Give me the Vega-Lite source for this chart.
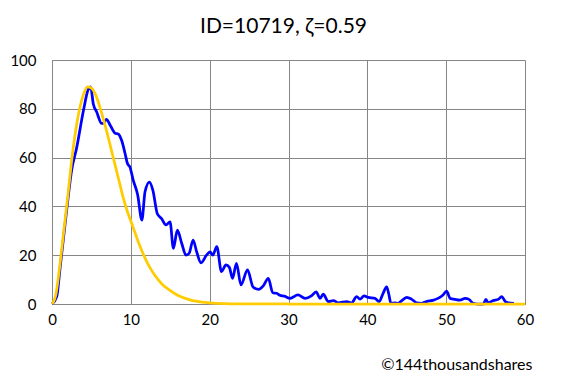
{
  "$schema": "https://vega.github.io/schema/vega-lite/v6.json",
  "autosize": "none",
  "width": 473,
  "height": 244,
  "padding": {"left": 52, "top": 60, "right": 43, "bottom": 75},
  "background": "white",
  "config": {
    "view": {"stroke": null},
    "font": "Lato",
    "axis": {"gridColor": "#868686", "gridWidth": 1, "domainColor": "#868686", "domainWidth": 1, "ticks": false, "labelColor": "#000000", "labelFont": "Lato", "labelFontSize": 15, "gridOpacity": 1}
  },
  "title": {
    "text": "ID=10719, ζ=0.59",
    "fontSize": 21,
    "fontWeight": "normal",
    "font": "Lato",
    "color": "#000000",
    "anchor": "middle",
    "offset": 16,
    "dx": -5
  },
  "datasets": {
    "observed": [
      {"x": 0, "y": 0}, {"x": 0.6, "y": 3}, {"x": 1.0, "y": 14}, {"x": 1.86, "y": 38.5}, {"x": 2.5, "y": 55}, {"x": 3.13, "y": 64}, {"x": 3.97, "y": 79}, {"x": 4.6, "y": 88}, {"x": 4.9, "y": 89}, {"x": 5.24, "y": 82}, {"x": 5.66, "y": 78.8}, {"x": 6.3, "y": 74}, {"x": 6.5, "y": 74}, {"x": 6.9, "y": 75.7}, {"x": 7.36, "y": 73.4}, {"x": 8.0, "y": 70}, {"x": 8.4, "y": 69.7}, {"x": 8.84, "y": 67}, {"x": 9.26, "y": 61.8}, {"x": 9.56, "y": 57.7}, {"x": 9.9, "y": 56}, {"x": 10.3, "y": 50.8}, {"x": 10.87, "y": 44.7}, {"x": 11.4, "y": 34.4}, {"x": 11.8, "y": 46}, {"x": 12.35, "y": 50}, {"x": 12.8, "y": 46.6}, {"x": 13.36, "y": 37}, {"x": 13.9, "y": 35}, {"x": 14.46, "y": 32.4}, {"x": 14.97, "y": 33.7}, {"x": 15.4, "y": 22.8}, {"x": 15.9, "y": 30.3}, {"x": 16.45, "y": 24.9}, {"x": 17.0, "y": 20}, {"x": 17.4, "y": 20.8}, {"x": 17.9, "y": 26.2}, {"x": 18.35, "y": 21.4}, {"x": 18.9, "y": 16.9}, {"x": 19.6, "y": 20}, {"x": 20.04, "y": 21.4}, {"x": 20.4, "y": 20}, {"x": 20.9, "y": 23.5}, {"x": 21.5, "y": 13.3}, {"x": 22.07, "y": 16}, {"x": 22.5, "y": 15}, {"x": 22.9, "y": 10.5}, {"x": 23.4, "y": 16.7}, {"x": 23.97, "y": 7.8}, {"x": 24.8, "y": 14}, {"x": 25.5, "y": 7}, {"x": 26.2, "y": 6}, {"x": 26.8, "y": 7.4}, {"x": 27.44, "y": 10.5}, {"x": 28.0, "y": 4.6}, {"x": 28.5, "y": 4.4}, {"x": 28.9, "y": 3.6}, {"x": 29.5, "y": 3.2}, {"x": 30.2, "y": 2.3}, {"x": 31.2, "y": 3.7}, {"x": 32.1, "y": 2.3}, {"x": 32.9, "y": 3.3}, {"x": 33.5, "y": 5}, {"x": 34.0, "y": 2.3}, {"x": 34.4, "y": 4}, {"x": 35.05, "y": 1}, {"x": 35.7, "y": 1.4}, {"x": 36.3, "y": 0.5}, {"x": 37.4, "y": 1}, {"x": 38.0, "y": 0.5}, {"x": 38.65, "y": 3}, {"x": 39.07, "y": 2}, {"x": 39.58, "y": 3.3}, {"x": 40.1, "y": 2.7}, {"x": 40.97, "y": 2.3}, {"x": 41.5, "y": 1}, {"x": 42.0, "y": 4.4}, {"x": 42.45, "y": 7}, {"x": 42.7, "y": 4.4}, {"x": 43.0, "y": 0.3}, {"x": 43.5, "y": 0.5}, {"x": 43.9, "y": 0.3}, {"x": 44.57, "y": 1.9}, {"x": 44.99, "y": 2.7}, {"x": 45.6, "y": 2}, {"x": 46.25, "y": 0.5}, {"x": 46.9, "y": 0.3}, {"x": 47.5, "y": 1}, {"x": 48.4, "y": 1.6}, {"x": 49.2, "y": 2.7}, {"x": 49.6, "y": 3.7}, {"x": 50.06, "y": 5.3}, {"x": 50.5, "y": 2.3}, {"x": 51.1, "y": 1.9}, {"x": 51.75, "y": 1.6}, {"x": 52.4, "y": 2.3}, {"x": 52.9, "y": 1.9}, {"x": 53.4, "y": 0.3}, {"x": 54.0, "y": 0}, {"x": 54.7, "y": 0}, {"x": 55.05, "y": 1.9}, {"x": 55.3, "y": 0.5}, {"x": 55.96, "y": 1.4}, {"x": 56.6, "y": 1.9}, {"x": 57.04, "y": 3}, {"x": 57.5, "y": 1}, {"x": 57.9, "y": 0.5}, {"x": 58.6, "y": 0.3}
    ],
    "model": [
      {"x": 0, "y": 0}, {"x": 0.5, "y": 4}, {"x": 1, "y": 16}, {"x": 1.5, "y": 30}, {"x": 2, "y": 44}, {"x": 2.5, "y": 59}, {"x": 3, "y": 71}, {"x": 3.5, "y": 80}, {"x": 4, "y": 86}, {"x": 4.5, "y": 89}, {"x": 5, "y": 88.5}, {"x": 5.5, "y": 86}, {"x": 6, "y": 81.5}, {"x": 6.5, "y": 76}, {"x": 7, "y": 70}, {"x": 7.5, "y": 63.5}, {"x": 8, "y": 57}, {"x": 8.5, "y": 50.5}, {"x": 9, "y": 44}, {"x": 9.5, "y": 38.5}, {"x": 10, "y": 34}, {"x": 10.5, "y": 29.5}, {"x": 11, "y": 25}, {"x": 11.5, "y": 21}, {"x": 12, "y": 17.5}, {"x": 12.5, "y": 14.5}, {"x": 13, "y": 12}, {"x": 14, "y": 8}, {"x": 15, "y": 5.5}, {"x": 16, "y": 3.5}, {"x": 17, "y": 2.2}, {"x": 18, "y": 1.3}, {"x": 19, "y": 0.8}, {"x": 20, "y": 0.5}, {"x": 22, "y": 0.2}, {"x": 25, "y": 0.05}, {"x": 30, "y": 0}, {"x": 40, "y": 0}, {"x": 50, "y": 0}, {"x": 60, "y": 0}
    ]
  },
  "encoding": {
    "x": {"field": "x", "type": "quantitative", "scale": {"domain": [0, 60], "nice": false},
      "axis": {"values": [0, 10, 20, 30, 40, 50, 60], "labelFlush": false, "labelOverlap": false, "labelPadding": 8, "title": "©144thousandshares", "titleFont": "Lato", "titleFontSize": 16, "titleFontWeight": "normal", "titleColor": "#000000", "titleAnchor": "end", "titleAlign": "right", "titleX": 480, "titleY": 65, "titleBaseline": "alphabetic"}},
    "y": {"field": "y", "type": "quantitative", "scale": {"domain": [0, 100], "nice": false},
      "axis": {"values": [0, 20, 40, 60, 80, 100], "labelPadding": 16, "title": null}}
  },
  "layer": [
    {"data": {"name": "observed"}, "mark": {"type": "line", "color": "#0000FF", "strokeWidth": 2.75, "interpolate": "monotone"}},
    {"data": {"name": "model"}, "mark": {"type": "line", "color": "#FFCC00", "strokeWidth": 2.75, "interpolate": "monotone"}}
  ]
}
